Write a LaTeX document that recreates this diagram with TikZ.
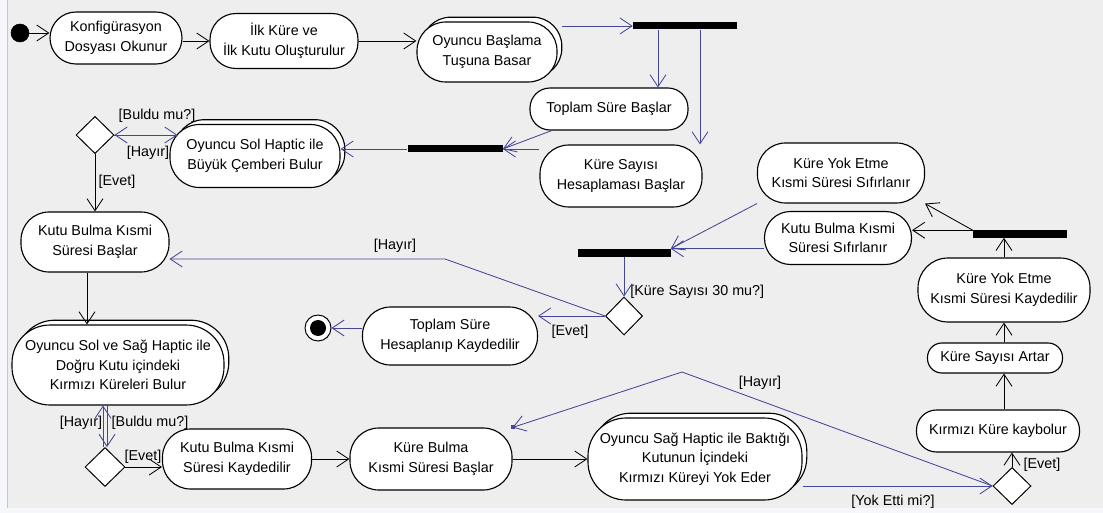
\documentclass[tikz,border=0pt]{standalone}
\usepackage{fontspec}
\setmainfont{Liberation Sans}
\usepackage{tikz}
\usetikzlibrary{arrows.meta,shapes.geometric,shadows,calc}
\definecolor{edgeblue}{RGB}{70,70,150}
\definecolor{panel}{RGB}{238,238,238}
\definecolor{rim}{RGB}{246,247,250}
\tikzstyle{act}=[fill=white, draw=black, line width=0.8pt, shape=rectangle, rounded corners=0.65cm, inner sep=0pt, align=center, font=\fontsize{10.2}{14}\selectfont]
\tikzstyle{multi}=[style=act, copy shadow={shadow xshift=0.12cm, shadow yshift=0.12cm}]
\tikzstyle{bar}=[fill=black, draw=none, shape=rectangle, inner sep=0pt, minimum height=0.175cm]
\tikzstyle{choice}=[fill=white, draw=black, line width=0.7pt, shape=diamond, inner sep=0pt, minimum width=0.95cm, minimum height=0.93cm]
\tikzstyle{startdot}=[fill=black, draw=black, shape=circle, minimum size=0.45cm, inner sep=0pt]
\tikzstyle{enddot}=[fill=white, draw=black, line width=0.7pt, shape=circle, minimum size=0.65cm, inner sep=0pt, path picture={\fill [black] (path picture bounding box.center) circle (0.2cm);}]
\tikzstyle{lbl}=[inner sep=0pt, font=\fontsize{10.2}{12}\selectfont]
\tikzstyle{ed}=[-{Straight Barb[length=0.3cm, width=0.4cm]}, draw=black, line width=0.6pt]
\tikzstyle{bed}=[style=ed, draw=edgeblue]

\begin{document}
\begin{tikzpicture}
	\useasboundingbox (0, 0) rectangle (27.575, -12.825);
	\fill [rim] (0, 0) rectangle (27.575, -12.825);
	\fill [panel] (0.175, 0) rectangle (27.575, -12.7);
	\draw [gray!45, line width=0.5pt] (0.175, 0) -- (0.175, -12.7);

	% actions
	\node [style=startdot] (0) at (0.5, -0.825) {};
	\node [style=act, minimum width=3.3cm, minimum height=1.3cm] (1) at (2.9, -0.95) {Konfigürasyon\\Dosyası Okunur};
	\node [style=act, minimum width=3.7cm, minimum height=1.375cm] (2) at (7.1, -1.025) {İlk Küre ve\\İlk Kutu Oluşturulur};
	\node [style=multi, minimum width=3.5cm, minimum height=1.5cm, rounded corners=0.72cm] (3) at (12.175, -1.3) {Oyuncu Başlama\\Tuşuna Basar};
	\node [style=bar, minimum width=2.6cm] (4) at (17.125, -0.65) {};
	\node [style=act, minimum width=3.95cm, minimum height=1.05cm, rounded corners=0.5cm] (5) at (15.225, -2.725) {Toplam Süre Başlar};
	\node [style=act, minimum width=4.05cm, minimum height=1.55cm, rounded corners=0.72cm] (6) at (15.525, -4.4) {Küre Sayısı\\Hesaplaması Başlar};
	\node [style=bar, minimum width=2.375cm] (7) at (11.375, -3.725) {};
	\node [style=multi, minimum width=4.25cm, minimum height=1.575cm, rounded corners=0.74cm] (8) at (6.375, -3.9) {Oyuncu Sol Haptic ile\\Büyük Çemberi Bulur};
	\node [style=choice] (9) at (2.375, -3.375) {};
	\node [style=act, minimum width=3.7cm, minimum height=1.5cm, rounded corners=0.7cm] (10) at (2.375, -6.05) {Kutu Bulma Kısmi\\Süresi Başlar};
	\node [style=multi, minimum width=5.3cm, minimum height=2cm, rounded corners=0.95cm] (11) at (2.95, -9.125) {Oyuncu Sol ve Sağ Haptic ile\\Doğru Kutu içindeki\\Kırmızı Küreleri Bulur};
	\node [style=choice, minimum width=1cm, minimum height=0.975cm] (12) at (2.625, -11.675) {};
	\node [style=act, minimum width=3.725cm, minimum height=1.5cm, rounded corners=0.7cm] (13) at (5.925, -11.475) {Kutu Bulma Kısmi\\Süresi Kaydedilir};
	\node [style=act, minimum width=4.05cm, minimum height=1.55cm, rounded corners=0.72cm] (14) at (10.775, -11.475) {Küre Bulma\\Kısmi Süresi Başlar};
	\node [style=multi, minimum width=5.35cm, minimum height=2.05cm, rounded corners=0.95cm] (15) at (17.375, -11.475) {Oyuncu Sağ Haptic ile Baktığı\\Kutunun İçindeki\\Kırmızı Küreyi Yok Eder};
	\node [style=choice, minimum height=0.925cm] (16) at (25.3, -12.15) {};
	\node [style=act, minimum width=4.075cm, minimum height=1.05cm, rounded corners=0.5cm] (17) at (24.95, -10.775) {Kırmızı Küre kaybolur};
	\node [style=act, minimum width=3.375cm, minimum height=0.75cm, rounded corners=0.36cm] (18) at (24.875, -8.95) {Küre Sayısı Artar};
	\node [style=act, minimum width=4.3cm, minimum height=1.6cm, rounded corners=0.75cm] (19) at (25.1, -7.25) {Küre Yok Etme\\Kısmi Süresi Kaydedilir};
	\node [style=bar, minimum width=2.35cm] (20) at (25.5, -5.85) {};
	\node [style=act, minimum width=4.175cm, minimum height=1.5cm, rounded corners=0.7cm] (21) at (21.025, -4.325) {Küre Yok Etme\\Kısmi Süresi Sıfırlanır};
	\node [style=act, minimum width=3.675cm, minimum height=1.325cm] (22) at (20.95, -5.95) {Kutu Bulma Kısmi\\Süresi Sıfırlanır};
	\node [style=bar, minimum width=2.325cm, minimum height=0.2cm] (23) at (15.6, -6.325) {};
	\node [style=choice, minimum width=0.925cm, minimum height=0.95cm] (24) at (15.6, -7.9) {};
	\node [style=act, minimum width=4.375cm, minimum height=1.45cm, rounded corners=0.7cm] (25) at (11.25, -8.4) {Toplam Süre\\Hesaplanıp Kaydedilir};
	\node [style=enddot] (26) at (7.95, -8.2) {};
	\coordinate (27) at (11.125, -6.475);
	\coordinate (28) at (17.05, -9.3);

	% guards
	\node [style=lbl] (29) at (3.925, -2.9) {[Buldu mu?]};
	\node [style=lbl] (30) at (3.7, -3.825) {[Hayır]};
	\node [style=lbl] (31) at (2.925, -4.55) {[Evet]};
	\node [style=lbl] (32) at (2.025, -10.575) {[Hayır]};
	\node [style=lbl] (33) at (3.75, -10.575) {[Buldu mu?]};
	\node [style=lbl] (34) at (3.575, -11.425) {[Evet]};
	\node [style=lbl] (35) at (9.875, -6.15) {[Hayır]};
	\node [style=lbl, anchor=west] (36) at (15.75, -7.3) {[Küre Sayısı 30 mu?]};
	\node [style=lbl] (37) at (14.25, -8.3) {[Evet]};
	\node [style=lbl] (38) at (19, -9.575) {[Hayır]};
	\node [style=lbl] (39) at (22.325, -12.55) {[Yok Etti mi?]};
	\node [style=lbl] (40) at (26.05, -11.625) {[Evet]};

	% flows
	\draw [style=ed] (0) to (0 -| 1.west);
	\draw [style=ed] (1.east |- 2) to (2.west);
	\draw [style=ed] (2.east) to (2.east -| 3.west);
	\draw [style=bed, shorten <=0.12cm] (3.east |- 4) to (4.west);
	\draw [style=bed] ([xshift=-0.675cm]4.south) to ([xshift=-0.675cm]4.south |- 5.north);
	\draw [style=bed] ([xshift=0.375cm]4.south) to ([xshift=0.375cm]4.south |- 6.north);
	\draw [style=bed] (5) to (7.east);
	\draw [style=bed] (6.west |- 7.east) to (7.east);
	\draw [style=bed] (7.west) to (7.west -| 8.east);
	\draw [style=bed] ($(9.east -| 8.west)+(0.2, 0)$) to (9.east);
	\draw [style=bed] (9.east) to ($(9.east -| 8.west)+(0.2, 0)$);
	\draw [style=ed] (9) to (10);
	\draw [style=ed] ([xshift=-0.2cm]10.south) to ([xshift=-0.2cm]10.south |- 11.north);
	\draw [style=bed, transform canvas={xshift=0.05cm}] (12.north |- 11.south) to (12.north);
	\draw [style=bed, transform canvas={xshift=-0.05cm}] (12.north) to (12.north |- 11.south);
	\draw [style=ed] (12.east) to (12.east -| 13.west);
	\draw [style=ed] (13) to (14);
	\draw [style=ed] (14) to (15);
	\draw [style=bed] (15.east |- 16) to (16.west);
	\draw [style=ed] (16.north) to (16.north |- 17.south);
	\draw [style=ed] (17.north -| 19.north) to (18.south -| 19.north);
	\draw [style=ed] (18.north -| 19.south) to (19.south);
	\draw [style=ed] (19.north) to (19.north |- 20.south);
	\draw [style=ed] (20.north west) to (20.north west -| 22.east);
	\draw [style=ed] (20.north west) to (21.east |- 21.south);
	\draw [style=bed] (21.west |- 21.south) to (23.north east);
	\draw [style=bed] (22.west |- 23.north east) to (23.north east);
	\draw [style=bed] (23) to (24);
	\draw [style=bed] (24.west) to (24.west -| 25.east);
	\draw [style=bed] (24.west) to (27) to (27 -| 10.east);
	\draw [style=bed] (25.west |- 26) to (26);
	\draw [style=bed] (16.west) to (28) to (14.east |- 14.north);
	\fill [edgeblue] ($(14.east |- 14.north)+(-0.05, -0.05)$) rectangle ++(0.1, 0.1);
\end{tikzpicture}
\end{document}
